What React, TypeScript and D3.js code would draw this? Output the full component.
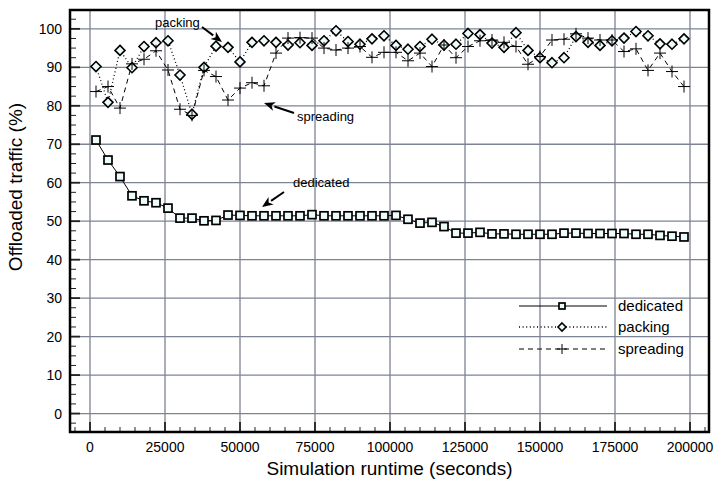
import React, { useEffect, useRef } from 'react';
import * as d3 from 'd3';

// simulation runtime (seconds) of each sample
const runtimes = [
  2000, 6000, 10000, 14000, 18000, 22000, 26000, 30000, 34000, 38000,
  42000, 46000, 50000, 54000, 58000, 62000, 66000, 70000, 74000, 78000,
  82000, 86000, 90000, 94000, 98000, 102000, 106000, 110000, 114000, 118000,
  122000, 126000, 130000, 134000, 138000, 142000, 146000, 150000, 154000, 158000,
  162000, 166000, 170000, 174000, 178000, 182000, 186000, 190000, 194000, 198000,
];

// offloaded traffic (%)
const dedicated = [
  71.1, 65.9, 61.6, 56.6, 55.3, 54.8, 53.4, 50.8, 50.8, 50.1,
  50.2, 51.6, 51.5, 51.4, 51.4, 51.4, 51.4, 51.4, 51.7, 51.4,
  51.4, 51.4, 51.4, 51.4, 51.4, 51.5, 50.5, 49.5, 49.7, 48.6,
  46.9, 46.9, 47.1, 46.7, 46.7, 46.6, 46.6, 46.6, 46.6, 46.9,
  46.9, 46.8, 46.8, 46.8, 46.8, 46.6, 46.6, 46.3, 46.1, 45.9,
];
const packing = [
  90.2, 80.9, 94.4, 89.9, 95.4, 96.4, 96.9, 88.0, 77.8, 90.0,
  95.5, 95.2, 91.4, 96.5, 96.9, 96.5, 95.8, 96.4, 95.7, 96.9,
  99.5, 96.7, 96.0, 97.4, 98.2, 95.7, 94.7, 95.4, 97.3, 95.8,
  96.0, 98.8, 98.5, 96.3, 95.2, 99.0, 94.4, 92.5, 91.2, 92.5,
  98.0, 96.5, 95.7, 96.9, 97.6, 99.3, 98.2, 96.1, 96.0, 97.4,
];
const spreading = [
  83.7, 85.0, 79.4, 90.9, 92.1, 94.3, 89.3, 79.1, 77.5, 89.2,
  87.6, 81.5, 84.6, 86.0, 85.2, 93.7, 97.6, 97.7, 97.6, 95.0,
  94.5, 95.0, 95.4, 92.6, 93.9, 93.9, 91.7, 93.7, 90.2, 95.8,
  92.5, 95.4, 96.9, 97.1, 96.5, 95.4, 90.8, 92.8, 97.1, 97.3,
  98.7, 97.6, 97.1, 97.1, 94.1, 94.8, 89.2, 93.7, 88.9, 85.0,
];

const xTicks = [0, 25000, 50000, 75000, 100000, 125000, 150000, 175000, 200000];
const yTicks = [0, 10, 20, 30, 40, 50, 60, 70, 80, 90, 100];

type Pt = { x: number; y: number };

const App: React.FC = () => {
  const svgRef = useRef<SVGSVGElement>(null);
  const width = 718;
  const height = 485;
  const font = "'Liberation Sans', Arial, Helvetica, sans-serif";

  useEffect(() => {
    if (!svgRef.current) return;
    const svg = d3.select(svgRef.current);
    svg.selectAll('*').remove();

    const left = 70, right = 709, top = 10, bottom = 432;

    const x = d3.scaleLinear().domain([-6667, 206333]).range([left, right]);
    const y = d3.scaleLinear().domain([-4.8, 104.9]).range([bottom, top]);

    const grid = '#7d8394';

    // gridlines
    svg.append('g')
      .selectAll('line.vx')
      .data(xTicks)
      .enter()
      .append('line')
      .attr('x1', (d) => x(d)).attr('x2', (d) => x(d))
      .attr('y1', top).attr('y2', bottom)
      .attr('stroke', grid).attr('stroke-width', 1.3);
    svg.append('g')
      .selectAll('line.hy')
      .data(yTicks)
      .enter()
      .append('line')
      .attr('x1', left).attr('x2', right)
      .attr('y1', (d) => y(d)).attr('y2', (d) => y(d))
      .attr('stroke', grid).attr('stroke-width', 1.3);

    // minor + major tick marks (pointing inward)
    const xMinor = d3.range(-5000, 206000, 5000);
    svg.append('g')
      .selectAll('line')
      .data(xMinor)
      .enter()
      .append('line')
      .attr('x1', (d) => x(d)).attr('x2', (d) => x(d))
      .attr('y1', bottom)
      .attr('y2', (d) => bottom - (d % 25000 === 0 ? 10 : 5))
      .attr('stroke', '#222')
      .attr('stroke-width', (d) => (d % 25000 === 0 ? 1.8 : 1));
    const yMinor = d3.range(-2.5, 104, 2.5);
    svg.append('g')
      .selectAll('line')
      .data(yMinor)
      .enter()
      .append('line')
      .attr('x1', left)
      .attr('x2', (d) => left + (d % 10 === 0 ? 10 : 6))
      .attr('y1', (d) => y(d)).attr('y2', (d) => y(d))
      .attr('stroke', '#222')
      .attr('stroke-width', (d) => (d % 10 === 0 ? 1.8 : 1));

    // frame
    svg.append('rect')
      .attr('x', left).attr('y', top)
      .attr('width', right - left).attr('height', bottom - top)
      .attr('fill', 'none').attr('stroke', '#000').attr('stroke-width', 2.5);

    // tick labels
    svg.append('g')
      .selectAll('text')
      .data(xTicks)
      .enter()
      .append('text')
      .attr('x', (d) => x(d))
      .attr('y', 452)
      .attr('text-anchor', 'middle')
      .attr('font-family', font).attr('font-size', 14)
      .text((d) => String(d));
    svg.append('g')
      .selectAll('text')
      .data(yTicks)
      .enter()
      .append('text')
      .attr('x', 62)
      .attr('y', (d) => y(d) + 5)
      .attr('text-anchor', 'end')
      .attr('font-family', font).attr('font-size', 14)
      .text((d) => String(d));

    // axis titles
    svg.append('text')
      .attr('x', (left + right) / 2).attr('y', 475)
      .attr('text-anchor', 'middle')
      .attr('font-family', font).attr('font-size', 19)
      .text('Simulation runtime (seconds)');
    svg.append('text')
      .attr('transform', `translate(22,${187}) rotate(-90)`)
      .attr('text-anchor', 'middle')
      .attr('font-family', font).attr('font-size', 19)
      .text('Offloaded traffic (%)');

    const toPts = (vals: number[]): Pt[] => vals.map((v, i) => ({ x: runtimes[i], y: v }));
    const line = d3.line<Pt>().x((d) => x(d.x)).y((d) => y(d.y));

    const series = [
      { name: 'dedicated', data: toPts(dedicated), dash: null as string | null, marker: 'square' },
      { name: 'packing', data: toPts(packing), dash: '1,2.6', marker: 'diamond' },
      { name: 'spreading', data: toPts(spreading), dash: '5,4', marker: 'cross' },
    ];

    const markerFill = '#eefbfb';
    const drawMarker = (g: d3.Selection<SVGGElement, unknown, null, undefined>, kind: string, cx: number, cy: number, s: number) => {
      if (kind === 'square') {
        g.append('rect')
          .attr('x', cx - s / 2).attr('y', cy - s / 2)
          .attr('width', s).attr('height', s)
          .attr('fill', markerFill).attr('stroke', '#000').attr('stroke-width', 1.7);
      } else if (kind === 'diamond') {
        const r = s / 2 + 1;
        g.append('path')
          .attr('d', `M${cx},${cy - r}L${cx + r},${cy}L${cx},${cy + r}L${cx - r},${cy}Z`)
          .attr('fill', markerFill).attr('stroke', '#000').attr('stroke-width', 1.6);
      } else {
        const r = s / 2 + 2;
        g.append('path')
          .attr('d', `M${cx - r},${cy}H${cx + r}M${cx},${cy - r}V${cy + r}`)
          .attr('fill', 'none').attr('stroke', '#000').attr('stroke-width', 1);
      }
    };

    // lines first, then markers
    series.forEach((s) => {
      svg.append('path')
        .datum(s.data)
        .attr('fill', 'none')
        .attr('stroke', '#000')
        .attr('stroke-width', s.dash === '1,2.6' ? 1.3 : 1)
        .attr('stroke-dasharray', s.dash)
        .attr('d', line);
    });
    series.forEach((s) => {
      const g = svg.append('g');
      s.data.forEach((d) => drawMarker(g, s.marker, x(d.x), y(d.y), 8));
    });

    // annotations
    const arrow = (x1: number, y1: number, x2: number, y2: number) => {
      const ang = Math.atan2(y2 - y1, x2 - x1);
      const len = 11, wid = 4.5;
      const bx = x2 - len * Math.cos(ang), by = y2 - len * Math.sin(ang);
      svg.append('line')
        .attr('x1', x1).attr('y1', y1).attr('x2', bx).attr('y2', by)
        .attr('stroke', '#000').attr('stroke-width', 2);
      svg.append('path')
        .attr('d', `M${x2},${y2}L${bx - wid * Math.sin(ang)},${by + wid * Math.cos(ang)}L${bx + 3 * Math.cos(ang)},${by + 3 * Math.sin(ang)}L${bx + wid * Math.sin(ang)},${by - wid * Math.cos(ang)}Z`)
        .attr('fill', '#000');
    };
    const label = (tx: number, ty: number, t: string, size: number) => {
      svg.append('text')
        .attr('x', tx).attr('y', ty)
        .attr('font-family', font).attr('font-size', size)
        .text(t);
    };
    label(155, 27, 'packing', 13);
    arrow(202, 27, 222, 42);
    label(297, 121, 'spreading', 13);
    arrow(294, 113, 264, 103);
    label(293, 187, 'dedicated', 13);
    arrow(284, 192, 262, 207);

    // legend
    const legendY = [306, 327, 349];
    series.forEach((s, i) => {
      const ly = legendY[i];
      svg.append('line')
        .attr('x1', 519).attr('x2', 607)
        .attr('y1', ly).attr('y2', ly)
        .attr('stroke', '#000')
        .attr('stroke-width', s.dash === '1,2.6' ? 1.3 : 1)
        .attr('stroke-dasharray', s.dash);
      const g = svg.append('g');
      drawMarker(g, s.marker, 562, ly, 6);
      label(618, ly + 5, s.name, 15);
    });
  }, []);

  return (
    <div style={{ position: 'absolute', left: 0, top: 0 }}>
      <svg ref={svgRef} width={width} height={height} style={{ display: 'block', background: '#fff' }} />
    </div>
  );
};

export default App;
